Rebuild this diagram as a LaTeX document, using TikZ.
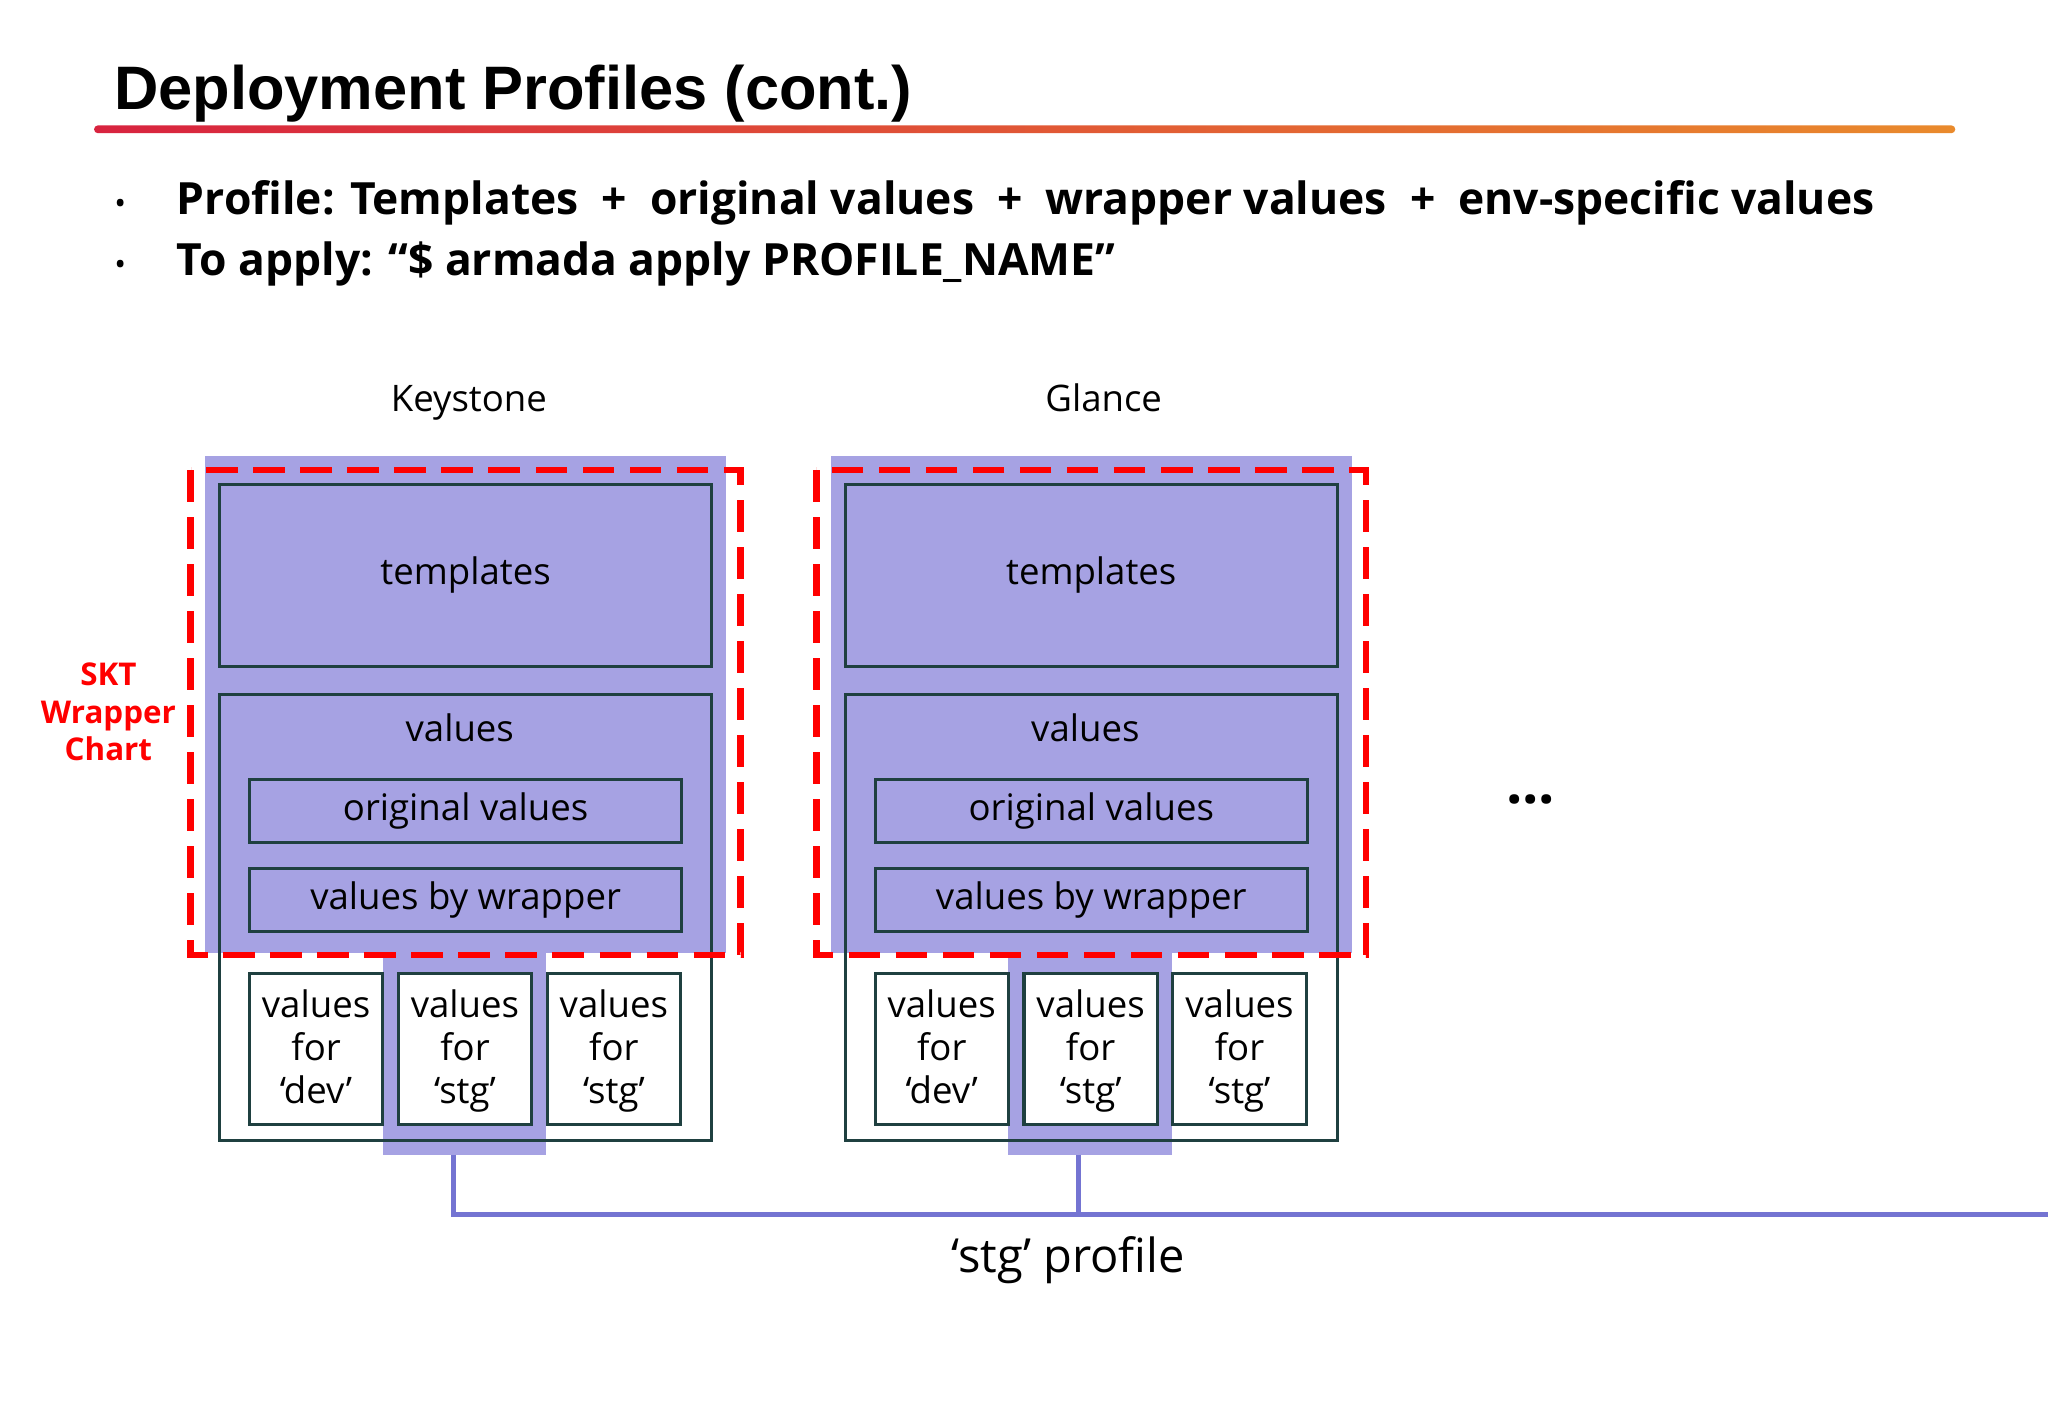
\documentclass[tikz,border=0pt]{standalone}
\usepackage{fontspec}
\setmainfont{Open Sans}
\newfontfamily\titlefont{Liberation Sans}
\begin{document}
\begin{tikzpicture}[x=0.5pt,y=-0.5pt,
  box/.style={draw=boxline,line width=1.2pt,inner sep=0pt},
  lbl/.style={font=\fontsize{14}{16}\selectfont,text=black},
  small/.style={box,align=center,fill=white,minimum width=51pt,minimum height=58pt,font=\fontsize{14}{16.5}\selectfont},
  conn/.style={draw=connc,line width=2pt}]
\definecolor{purpbg}{HTML}{A6A2E3}
\definecolor{boxline}{HTML}{1F4040}
\definecolor{connc}{HTML}{7474D2}
\definecolor{gr1}{HTML}{D8233F}
\definecolor{gr2}{HTML}{E98A2C}
\useasboundingbox (0,0) rectangle (1568,1086);
\fill[white] (0,0) rectangle (1568,1086);
\node[anchor=base west,font=\titlefont\fontsize{23.5}{26}\selectfont\bfseries,inner sep=0pt] (title) at (87,84) {Deployment Profiles (cont.)};
\shade[left color=gr1,right color=gr2,rounded corners=1.5pt] (72,96) rectangle (1497,102);
\foreach \y/\t [count=\i] in {164/{Profile: Templates \ + \ original values \ + \ wrapper values \ + \ env-specific values},211/{To apply: “\$ armada apply PROFILE\_NAME”}}{
  \node[anchor=base,font=\fontsize{12}{14}\selectfont,inner sep=0pt] (b\i) at (92,\y) {•};
  \node[anchor=base west,font=\fontsize{17}{21}\selectfont\bfseries,inner sep=0pt] (bt\i) at (135,\y) {\t};
}
\node[align=center,text=red,font=\fontsize{12}{14.5}\selectfont\bfseries] (skt) at (83,545) {SKT\\Wrapper\\Chart};
\node[font=\fontsize{22}{24}\selectfont\bfseries] (dots) at (1172,612) {...};
\foreach \n/\dx/\lab/\lx in {k/0/Keystone/359,g/479/Glance/366}{
\begin{scope}[xshift=\dx*0.5pt]
  \node[lbl,anchor=base] (\n lab) at (\lx,315) {\lab};
  \fill[purpbg] (157,349) rectangle (556,730);
  \fill[purpbg] (293,730) rectangle (418,884);
  \node[box,minimum width=188.5pt,minimum height=69.5pt,lbl] (\n tpl) at (356.5,440.5) {templates};
  \draw[boxline,line width=1.2pt] (168,532) rectangle (545,873);
  \node[lbl] (\n val) at (352,557) {values};
  \node[box,minimum width=165.5pt,minimum height=24pt,lbl] (\n orig) at (356.5,621) {original values};
  \node[box,minimum width=165.5pt,minimum height=24pt,lbl] (\n wrap) at (356.5,689) {values by wrapper};
  \node[small,text depth=2pt] (\n dev) at (242,803) {values\\for\\‘dev’\vphantom{g}};
  \node[small,text depth=2pt] (\n stg) at (356,803) {values\\for\\‘stg’};
  \node[small,text depth=2pt] (\n stgb) at (470,803) {values\\for\\‘stg’};
  \draw[red,line width=2.5pt,dash pattern=on 12pt off 6pt] (146,360) rectangle (567,731);
\end{scope}}
\coordinate (kd) at (347,884); \coordinate (kb) at (347,930);
\coordinate (gd) at (826,884); \coordinate (gb) at (826,930);
\coordinate (end) at (1568,930);
\draw[conn] (kd) -- (kb) -- (end);
\draw[conn] (gd) -- (gb);
\node[font=\fontsize{18}{21}\selectfont] (prof) at (818,965) {‘stg’ profile};
\end{tikzpicture}
\end{document}
